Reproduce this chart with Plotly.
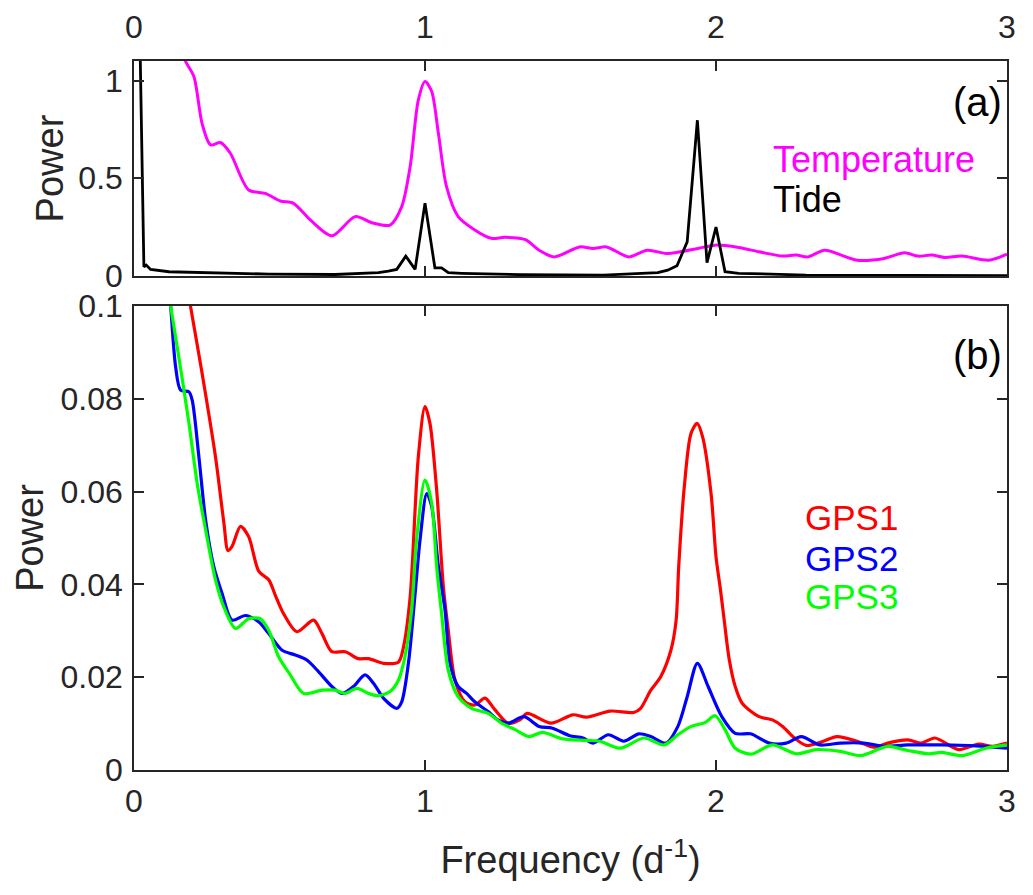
import plotly.graph_objects as go

# panel (a): temperature and tide spectra
temp_f = [0.165, 0.175, 0.206, 0.234, 0.263, 0.297, 0.331, 0.394, 0.451, 0.503,
          0.548, 0.606, 0.68, 0.76, 0.817, 0.88, 0.92, 0.949, 0.977, 1.0,
          1.023, 1.046, 1.074, 1.114, 1.171, 1.228, 1.274, 1.345, 1.392, 1.444,
          1.531, 1.578, 1.624, 1.70, 1.764, 1.834, 1.938, 1.997, 2.078, 2.148,
          2.229, 2.276, 2.316, 2.374, 2.485, 2.578, 2.648, 2.694, 2.741, 2.787,
          2.845, 2.938, 3.0]
temp_p = [1.2, 1.106, 1.02, 0.78, 0.671, 0.683, 0.628, 0.44, 0.423, 0.384,
          0.372, 0.287, 0.206, 0.304, 0.273, 0.261, 0.355, 0.56, 0.90, 0.995,
          0.944, 0.73, 0.457, 0.304, 0.236, 0.193, 0.198, 0.186, 0.132, 0.098,
          0.149, 0.141, 0.149, 0.098, 0.132, 0.115, 0.141, 0.158, 0.146, 0.124,
          0.102, 0.107, 0.098, 0.132, 0.081, 0.09, 0.119, 0.102, 0.107, 0.095,
          0.102, 0.081, 0.112]

tide_f = [0.017, 0.034, 0.042, 0.057, 0.12, 0.235, 0.463, 0.691, 0.84, 0.874,
          0.903, 0.934, 0.966, 1.0, 1.034, 1.057, 1.08, 1.126, 1.331, 1.613,
          1.80, 1.834, 1.866, 1.901, 1.936, 1.969, 2.0, 2.031, 2.078, 2.31, 3.0]
tide_p = [1.5, 0.047, 0.056, 0.034, 0.022, 0.017, 0.01, 0.008, 0.017, 0.025,
          0.034, 0.102, 0.034, 0.373, 0.042, 0.042, 0.017, 0.014, 0.007, 0.005,
          0.017, 0.03, 0.053, 0.175, 0.797, 0.068, 0.251, 0.022, 0.014, 0.005, 0.002]

# panel (b): GPS spectra
g1_f = [0.17, 0.194, 0.234, 0.28, 0.309, 0.323, 0.337, 0.366, 0.394, 0.429,
        0.463, 0.486, 0.514, 0.56, 0.617, 0.646, 0.68, 0.726, 0.771, 0.806,
        0.857, 0.909, 0.926, 0.949, 0.977, 1.0, 1.017, 1.04, 1.063, 1.08,
        1.103, 1.137, 1.171, 1.206, 1.24, 1.286, 1.326, 1.351, 1.433, 1.508,
        1.555, 1.636, 1.717, 1.741, 1.776, 1.81, 1.845, 1.863, 1.872, 1.891,
        1.914, 1.935, 1.954, 1.983, 2.0, 2.015, 2.028, 2.045, 2.066, 2.09,
        2.148, 2.194, 2.229, 2.264, 2.31, 2.369, 2.415, 2.485, 2.543, 2.59,
        2.659, 2.706, 2.752, 2.834, 2.903, 2.95, 3.0]
g1_p = [0.109, 0.1, 0.0855, 0.0675, 0.0532, 0.0473, 0.0482, 0.0525, 0.0503, 0.0428,
        0.041, 0.0376, 0.0337, 0.0298, 0.0323, 0.0294, 0.0255, 0.0255, 0.024, 0.024,
        0.023, 0.0233, 0.0265, 0.0373, 0.0675, 0.0783, 0.0747, 0.0604, 0.0396, 0.0301,
        0.0194, 0.0147, 0.014, 0.0155, 0.013, 0.0101, 0.0108, 0.0122, 0.0101, 0.0119,
        0.0114, 0.0127, 0.0124, 0.0133, 0.0172, 0.0201, 0.0258, 0.0323, 0.044, 0.061,
        0.0725, 0.0747, 0.0718, 0.0596, 0.046, 0.039, 0.0324, 0.024, 0.018, 0.0144,
        0.0115, 0.0108, 0.0094, 0.0072, 0.0053, 0.0062, 0.0072, 0.0062, 0.0049, 0.0058,
        0.0065, 0.0058, 0.0069, 0.0044, 0.0056, 0.0051, 0.0058]

g2_f = [0.11, 0.126, 0.143, 0.16, 0.189, 0.2, 0.223, 0.246, 0.274, 0.303,
        0.337, 0.383, 0.429, 0.463, 0.509, 0.554, 0.594, 0.634, 0.68, 0.714,
        0.754, 0.794, 0.823, 0.857, 0.903, 0.92, 0.943, 0.966, 0.983, 1.006,
        1.023, 1.046, 1.069, 1.086, 1.114, 1.143, 1.171, 1.217, 1.251, 1.286,
        1.34, 1.392, 1.438, 1.497, 1.543, 1.578, 1.63, 1.683, 1.735, 1.776,
        1.828, 1.869, 1.901, 1.936, 1.973, 2.02, 2.066, 2.119, 2.183, 2.241,
        2.293, 2.357, 2.427, 2.508, 2.578, 2.659, 2.776, 2.892, 3.0]
g2_p = [0.112, 0.1, 0.0869, 0.0819, 0.0815, 0.0797, 0.0675, 0.0539, 0.0439, 0.038,
        0.0323, 0.0333, 0.0319, 0.0294, 0.0258, 0.0248, 0.0237, 0.0212, 0.018, 0.0165,
        0.018, 0.0205, 0.0187, 0.0155, 0.0133, 0.0147, 0.023, 0.038, 0.0496, 0.0596,
        0.0568, 0.0439, 0.0344, 0.023, 0.018, 0.0165, 0.0147, 0.0126, 0.0108, 0.0101,
        0.0115, 0.0094, 0.009, 0.0074, 0.0069, 0.0058, 0.0076, 0.0062, 0.0078, 0.0072,
        0.0058, 0.0094, 0.0158, 0.023, 0.018, 0.0115, 0.0079, 0.0078, 0.0058, 0.0058,
        0.0072, 0.0054, 0.0058, 0.0058, 0.0051, 0.0054, 0.0054, 0.0052, 0.0047]

g3_f = [0.11, 0.126, 0.154, 0.189, 0.217, 0.246, 0.28, 0.309, 0.349, 0.394,
        0.434, 0.463, 0.497, 0.537, 0.583, 0.646, 0.691, 0.726, 0.766, 0.806,
        0.84, 0.88, 0.909, 0.931, 0.954, 0.971, 1.0, 1.023, 1.04, 1.057,
        1.08, 1.114, 1.16, 1.217, 1.263, 1.31, 1.357, 1.404, 1.473, 1.555,
        1.601, 1.671, 1.752, 1.822, 1.869, 1.915, 1.962, 1.997, 2.031, 2.066,
        2.119, 2.194, 2.276, 2.345, 2.427, 2.497, 2.59, 2.659, 2.729, 2.776,
        2.845, 2.927, 3.0]
g3_p = [0.107, 0.1, 0.089, 0.0747, 0.0618, 0.0518, 0.041, 0.0351, 0.0305, 0.0326,
        0.0326, 0.0301, 0.0244, 0.0205, 0.0165, 0.0172, 0.0172, 0.0165, 0.0176, 0.0165,
        0.016, 0.0169, 0.0194, 0.0244, 0.0344, 0.0496, 0.0625, 0.0575, 0.0439, 0.0337,
        0.0215, 0.0158, 0.0133, 0.0122, 0.0101, 0.0087, 0.0072, 0.0081, 0.0067, 0.0064,
        0.0062, 0.0047, 0.0069, 0.0054, 0.0076, 0.0094, 0.0102, 0.0117, 0.0087, 0.0047,
        0.0034, 0.0054, 0.0035, 0.0044, 0.004, 0.0031, 0.0051, 0.0042, 0.0035, 0.0038,
        0.0031, 0.0047, 0.0054]

freq_ticks = [0, 1, 2, 3]
top_ticks = [0, 0.5, 1]
bot_ticks = [0, 0.02, 0.04, 0.06, 0.08, 0.1]
bot_labels = ['0', '0.02', '0.04', '0.06', '0.08', '0.1']

AX = '#262626'
FONT = 'Liberation Sans, Arial, sans-serif'

fig = go.Figure()
fig.add_trace(go.Scatter(x=temp_f, y=temp_p, mode='lines', xaxis='x', yaxis='y',
                         line=dict(color='#FF00FF', width=3, shape='spline', smoothing=0.8)))
fig.add_trace(go.Scatter(x=tide_f, y=tide_p, mode='lines', xaxis='x', yaxis='y',
                         line=dict(color='black', width=2.8)))
for f, p, c in [(g1_f, g1_p, '#FF0000'), (g2_f, g2_p, '#0000FF'), (g3_f, g3_p, '#00FF00')]:
    fig.add_trace(go.Scatter(x=f, y=p, mode='lines', xaxis='x2', yaxis='y2',
                             line=dict(color=c, width=3.2, shape='spline', smoothing=0.8)))

axis_style = dict(showline=True, linecolor=AX, linewidth=1.5, mirror='ticks',
                  ticks='inside', ticklen=10, tickwidth=1.5, tickcolor=AX,
                  showgrid=False, zeroline=False, automargin=False)

# the page body has an 8px margin, so the figure is a little smaller than the window
fig.update_layout(
    width=1017, height=879,
    margin=dict(l=126, r=18, t=53, b=117),
    plot_bgcolor='white', paper_bgcolor='white',
    showlegend=False,
    font=dict(family=FONT, size=32, color=AX),
    xaxis=dict(domain=[0, 1], anchor='y', range=[0, 3], side='top',
               tickvals=freq_ticks, ticklabelstandoff=8, **axis_style),
    yaxis=dict(domain=[0.6967, 1], anchor='x', range=[0, 1.1],
               tickvals=top_ticks, ticktext=['0', '0.5', '1'], ticklabelstandoff=3,
               title=dict(text='Power', standoff=3), **axis_style),
    xaxis2=dict(domain=[0, 1], anchor='y2', range=[0, 3],
                tickvals=freq_ticks, ticklabelstandoff=2,
                title=dict(text='Frequency (d<sup>-1</sup>)', standoff=28), **axis_style),
    yaxis2=dict(domain=[0, 0.6544], anchor='x2', range=[0, 0.1],
                tickvals=bot_ticks, ticktext=bot_labels, ticklabelstandoff=3,
                title=dict(text='Power', standoff=5), **axis_style),
)

def label(text, x, y, xref, yref, color, size=35, xanchor='left'):
    fig.add_annotation(text=text, x=x, y=y, xref=xref, yref=yref, showarrow=False,
                       xanchor=xanchor, yanchor='middle',
                       font=dict(family=FONT, size=size, color=color))

label('(a)', 2.99, 0.891, 'x', 'y', 'black', size=40, xanchor='right')
label('Temperature', 2.19, 0.594, 'x', 'y', '#FF00FF', size=36)
label('Tide', 2.19, 0.389, 'x', 'y', 'black', size=36)
label('(b)', 2.99, 0.0894, 'x2', 'y2', 'black', size=40, xanchor='right')
label('GPS1', 2.298, 0.0545, 'x2', 'y2', '#FF0000')
label('GPS2', 2.298, 0.0455, 'x2', 'y2', '#0000FF')
label('GPS3', 2.298, 0.0373, 'x2', 'y2', '#00FF00')

fig.write_html("out.html")
